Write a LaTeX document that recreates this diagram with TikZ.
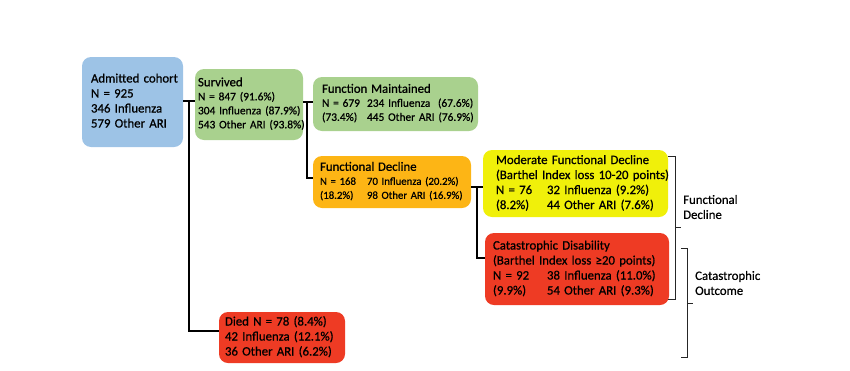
\documentclass[tikz,border=0pt]{standalone}
\usepackage{fontspec}
\setmainfont{Carlito}[UprightFeatures={FakeBold=0.7}]
\usepackage{xcolor}
\definecolor{cohortblue}{HTML}{9DC3E6}
\definecolor{survgreen}{HTML}{A9D18E}
\definecolor{declorange}{HTML}{FDB515}
\definecolor{modyellow}{HTML}{F0F00A}
\definecolor{catred}{HTML}{EE3B24}
\newcommand{\colN}[2]{\makebox[#1][l]{#2}}
\newcommand{\boxtext}[1]{\begin{tabular}{@{}l@{}}#1\end{tabular}}
\newcommand{\titlefont}{\fontsize{12.8}{15}\selectfont}

\begin{document}
\begin{tikzpicture}[x=1pt,y=-1pt,
    outbox/.style={rounded corners=9pt, inner ysep=0pt, align=left, text=black,
        font=\fontsize{12.8}{15}\selectfont},
    smalltext/.style={font=\fontsize{11.4}{14}\selectfont},
    conn/.style={line width=1.7pt, black},
    brace/.style={line width=0.9pt, black!85}]
    \useasboundingbox (0,0) rectangle (850,370);

    % Admitted cohort
    \node[outbox, fill=cohortblue, minimum width=101pt, minimum height=90pt, inner xsep=9pt, text width=83pt] (admit) at (132.5,102) {\boxtext{Admitted cohort\\N = 925\\346 Influenza\\579 Other ARI}};

    % Survived / died
    \node[outbox, smalltext, fill=survgreen, minimum width=108pt, minimum height=71pt, inner xsep=3pt, text width=102pt] (surv) at (249,104.5) {\boxtext{\titlefont Survived\\N = 847 (91.6\%)\\304 Influenza (87.9\%)\\543 Other ARI (93.8\%)}};
    \node[outbox, fill=catred, minimum width=126pt, minimum height=51pt, inner xsep=6pt, text width=114pt] (died) at (282,337.5) {\boxtext{Died N = 78 (8.4\%)\\42 Influenza (12.1\%)\\36 Other ARI (6.2\%)}};

    % Function maintained / decline
    \node[outbox, smalltext, fill=survgreen, minimum width=165pt, minimum height=54pt, inner xsep=9pt, text width=147pt] (maint) at (395.5,104) {\boxtext{\titlefont Function Maintained\\\colN{45pt}{N = 679}234 Influenza\ \ (67.6\%)\\\colN{45pt}{(73.4\%)}445 Other ARI (76.9\%)}};
    \node[outbox, fill=declorange, minimum width=158pt, minimum height=52pt, inner xsep=7pt, text width=144pt, font=\fontsize{10.8}{14}\selectfont] (decl) at (392,182) {\boxtext{\titlefont Functional Decline\\\colN{47pt}{N = 168}70 Influenza (20.2\%)\\\colN{47pt}{(18.2\%)}98 Other ARI (16.9\%)}};

    % Moderate / catastrophic
    \node[outbox, fill=modyellow, minimum width=185pt, minimum height=67pt, inner xsep=13pt, text width=159pt] (moder) at (575.5,183.5) {\boxtext{Moderate Functional Decline\\(Barthel Index loss 10-20 points)\\\colN{51pt}{N = 76}32 Influenza (9.2\%)\\\colN{51pt}{(8.2\%)}44 Other ARI (7.6\%)}};
    \node[outbox, fill=catred, minimum width=184pt, minimum height=72pt, inner xsep=8pt, text width=168pt] (catas) at (577,269) {\boxtext{Catastrophic Disability\\(Barthel Index loss ≥20 points)\\\colN{54pt}{N = 92}38 Influenza (11.0\%)\\\colN{54pt}{(9.9\%)}54 Other ARI (9.3\%)}};

    % Connectors
    \coordinate (j1) at (189,101);
    \coordinate (j2) at (307,102);
    \coordinate (j3) at (477,187);
    \draw[conn] (admit.east |- j1) -- (surv.west |- j1);
    \draw[conn] (j1) |- ([yshift=6.5pt]died.west);
    \draw[conn] (surv.east |- j2) -- (maint.west |- j2);
    \draw[conn] (j2) |- ([yshift=4pt]decl.west);
    \draw[conn] (decl.east |- j3) -- (moder.west |- j3);
    \draw[conn] (j3) |- ([yshift=11pt]catas.west);

    % Brackets
    \draw[brace] (668,156) -- (675,156) -- (675,299) -- (668,299);
    \draw[brace] (675,227) -- (681,227);
    \draw[brace] (681,248) -- (687,248) -- (687,357) -- (681,357);
    \draw[brace] (687,303) -- (693,303);
    \node[anchor=west, align=left, inner sep=0pt, text=black, font=\fontsize{12.8}{15}\selectfont] (lblfd) at (683,207) {Functional\\Decline};
    \node[anchor=west, align=left, inner sep=0pt, text=black, font=\fontsize{12.8}{15}\selectfont] (lblco) at (695,283) {Catastrophic\\Outcome};
\end{tikzpicture}
\end{document}
